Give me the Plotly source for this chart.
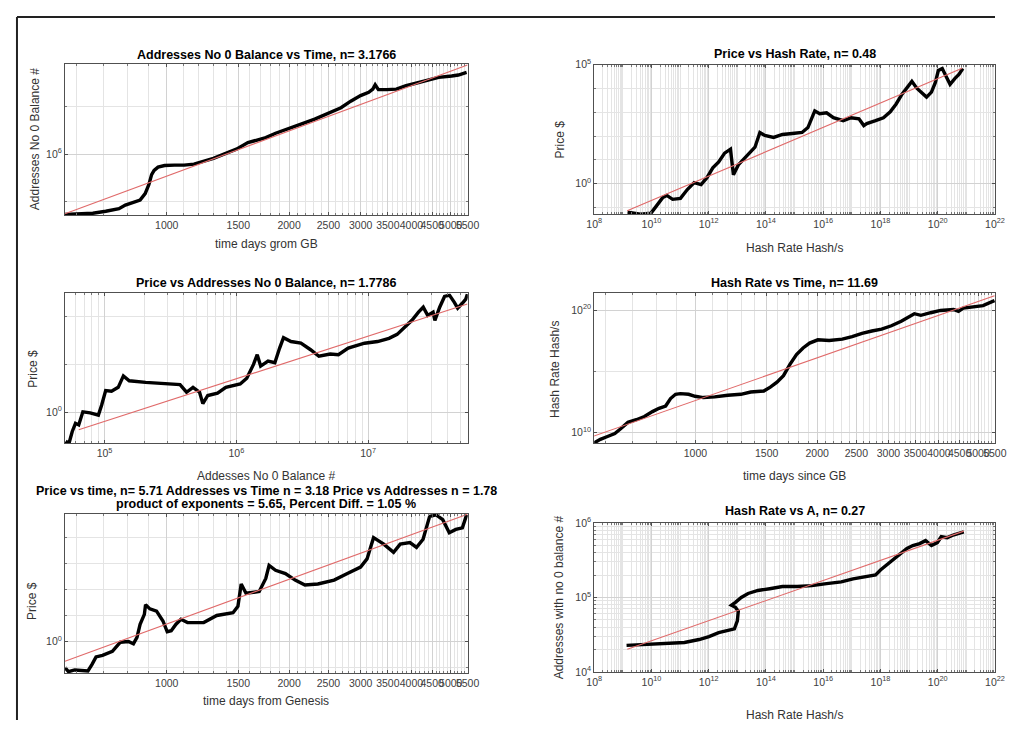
import plotly.graph_objects as go

W, H = 1015, 734          # browser window
OFF = 8                   # default body margin of the page
FW, FH = W - 2 * OFF, H - 2 * OFF   # figure size so the page fits the window exactly
FONT = "Liberation Sans, Arial, Helvetica, sans-serif"

# ---------------- data ----------------
# Panel 1: Addresses No 0 Balance vs Time
p1_days = [562, 658, 708, 763, 791, 828, 860, 885, 904, 918, 931, 952, 988, 1045, 1104, 1167, 1233, 1303,
           1378, 1484, 1584, 1659, 1753, 1853, 1996, 2148, 2313, 2490, 2684, 2837, 2999, 3141, 3215, 3258,
           3318, 3475, 3673, 3882, 4178, 4416, 4667, 5025, 5220, 5470]
p1_addr = [5.37e4, 5.74e4, 6.31e4, 7.14e4, 8.51e4, 9.69e4, 1.08e5, 1.48e5, 2.30e5, 3.70e5, 4.53e5, 5.32e5,
           5.74e5, 5.85e5, 5.85e5, 6.14e5, 6.95e5, 8.15e5, 9.87e5, 1.27e6, 1.74e6, 1.94e6, 2.21e6, 2.74e6,
           3.38e6, 4.29e6, 5.43e6, 7.21e6, 9.40e6, 1.29e7, 1.69e7, 1.98e7, 2.31e7, 2.85e7, 2.25e7, 2.25e7,
           2.31e7, 2.72e7, 3.18e7, 3.72e7, 4.08e7, 4.36e7, 4.57e7, 5.16e7]
p1_fit_days = [562, 5495]
p1_fit_addr = [5.6e4, 7.45e7]

# Panel 2: Price vs Hash Rate
p2_hash = [1.46e9, 4.07e9, 9.69e9, 1.44e10, 2.50e10, 3.42e10, 5.49e10, 1.03e11, 1.79e11, 3.11e11, 5.41e11,
           8.67e11, 1.39e12, 2.23e12, 3.59e12, 5.75e12, 6.74e12, 7.30e12, 1.08e13, 2.03e13, 4.13e13, 6.13e13,
           9.09e13, 1.85e14, 3.76e14, 8.27e14, 1.82e15, 2.92e15, 4.01e15, 5.07e15, 7.53e15, 1.31e16, 2.27e16,
           5.00e16, 9.40e16, 1.77e17, 2.62e17, 3.32e17, 6.75e17, 1.27e18, 2.20e18, 3.53e18, 5.66e18, 9.10e18,
           1.25e19, 1.85e19, 2.74e19, 4.07e19, 6.04e19, 8.28e19, 1.05e20, 1.44e20, 1.97e20, 2.70e20, 4.01e20,
           5.50e20, 7.54e20]
p2_price = [0.0633, 0.0524, 0.0576, 0.112, 0.264, 0.319, 0.218, 0.240, 0.565, 1.10, 0.909, 1.77, 4.58, 8.11,
            19.1, 27.9, 7.38, 2.35, 6.10, 13.1, 33.8, 141, 106, 87.5, 116, 128, 141, 227, 587, 1140, 859, 945,
            587, 441, 587, 533, 274, 332, 441, 587, 1040, 2220, 5750, 12300, 19800, 10200, 6970, 4320, 6970,
            18000, 56500, 68400, 31900, 14900, 26400, 38600, 68400]
p2_fit_hash = [1.42e9, 7.13e20]
p2_fit_price = [0.0716, 70300]

# Panel 3: Price vs Addresses No 0 Balance
p3_addr = [5.07e4, 5.37e4, 5.69e4, 6.02e4, 6.37e4, 6.85e4, 7.78e4, 8.98e4, 9.50e4, 1.02e5, 1.13e5, 1.27e5,
           1.39e5, 1.54e5, 2.05e5, 2.89e5, 3.74e5, 4.19e5, 4.69e5, 5.26e5, 5.57e5, 6.07e5, 7.20e5, 8.32e5,
           1.07e6, 1.20e6, 1.35e6, 1.44e6, 1.53e6, 1.74e6, 1.96e6, 2.13e6, 2.28e6, 2.60e6, 3.09e6, 3.66e6,
           4.23e6, 5.16e6, 5.95e6, 7.06e6, 9.39e6, 1.18e7, 1.44e7, 1.66e7, 1.92e7, 2.15e7, 2.41e7, 2.62e7,
           2.83e7, 3.11e7, 3.21e7, 3.49e7, 3.80e7, 4.14e7, 4.51e7, 4.78e7, 5.20e7, 5.51e7, 5.66e7]
p3_price = [0.0607, 0.0489, 0.156, 0.343, 0.293, 1.03, 0.94, 0.753, 1.94, 7.97, 7.48, 10.9, 32.8, 20.5, 17.5,
            15.0, 14.1, 6.8, 10.9, 6.8, 2.27, 4.97, 6.2, 10.9, 15.0, 26.4, 98.9, 253, 84.3, 135, 116, 476,
            1300, 893, 763, 406, 217, 270, 253, 476, 763, 893, 1220, 1780, 3680, 6900, 15100, 24300, 11100,
            15100, 6900, 24300, 68500, 77800, 38900, 22100, 36500, 53300, 85400]
p3_fit_addr = [6.37e4, 5.66e7]
p3_fit_price = [0.183, 33100]

# Panel 4: Hash Rate vs Time
p4_days = [560, 582, 604, 632, 650, 681, 714, 748, 783, 813, 844, 868, 893, 918, 962, 998, 1046, 1116, 1203,
           1295, 1370, 1476, 1532, 1591, 1651, 1713, 1778, 1846, 1916, 2008, 2142, 2308, 2441, 2582, 2731,
           2887, 3052, 3228, 3478, 3610, 3818, 4037, 4348, 4472, 4598, 4863, 5143, 5490]
p4_hash = [1.32e9, 2.75e9, 4.50e9, 8.32e9, 1.74e10, 6.71e10, 1.10e11, 2.03e11, 5.09e11, 9.40e11, 1.45e12,
           5.93e12, 1.32e13, 1.49e13, 1.32e13, 9.12e12, 7.13e12, 8.07e12, 1.10e13, 1.32e13, 2.03e13, 2.44e13,
           5.09e13, 1.28e14, 4.37e14, 3.74e15, 2.36e16, 8.07e16, 2.03e17, 3.74e17, 3.31e17, 4.24e17, 6.92e17,
           1.28e18, 1.96e18, 2.84e18, 5.25e18, 1.24e19, 5.09e19, 3.74e19, 6.12e19, 9.40e19, 1.13e20, 7.82e19,
           1.45e20, 1.74e20, 2.36e20, 5.93e20]
p4_fit_days = [560, 5490]
p4_fit_hash = [5.0e9, 1.51e21]

# Panel 5: Price vs time
p5_days = [562, 573, 594, 640, 655, 670, 695, 735, 769, 805, 828, 845, 860, 881, 887, 909, 944, 979, 1003,
           1026, 1054, 1084, 1125, 1233, 1328, 1456, 1497, 1525, 1567, 1689, 1753, 1786, 1853, 1959, 2070,
           2188, 2355, 2582, 2783, 2999, 3111, 3228, 3420, 3616, 3754, 3968, 4118, 4274, 4436, 4603, 4778,
           4958, 5145, 5340, 5470]
p5_price = [0.0986, 0.0696, 0.0805, 0.0738, 0.132, 0.256, 0.296, 0.420, 0.944, 1.0, 0.817, 1.46, 4.64, 11.1,
            26.4, 18.1, 14.8, 6.20, 2.38, 2.60, 4.64, 7.17, 5.36, 5.36, 10.1, 12.8, 22.8, 164, 72.8, 84.1, 268,
            853, 552, 413, 232, 150, 164, 232, 413, 738, 1520, 10000, 5600, 2720, 5600, 6470, 4200, 8650,
            65700, 75000, 49200, 15400, 20600, 23800, 75000]
p5_fit_days = [562, 5495]
p5_fit_price = [0.176, 79400]

# Panel 6: Hash Rate vs A
p6_hash = [1.35e9, 6.04e9, 2.92e10, 1.42e11, 4.62e11, 1.02e12, 2.23e12, 4.92e12, 7.89e12, 1.0e13, 1.08e13,
           8.55e12, 6.24e12, 8.55e12, 1.37e13, 2.38e13, 5.24e13, 1.35e14, 3.76e14, 1.23e15, 4.01e15, 1.31e16,
           4.27e16, 1.10e17, 3.06e17, 6.75e17, 1.0e18, 1.74e18, 2.79e18, 4.84e18, 8.41e18, 1.35e19, 2.34e19,
           3.76e19, 6.04e19, 9.69e19, 1.33e20, 2.13e20, 3.70e20, 8.15e20]
p6_addr = [22700, 23300, 24100, 24800, 27200, 29800, 33600, 35700, 37900, 48300, 65500, 73900, 78500, 85900,
           1.0e5, 1.13e5, 1.24e5, 1.31e5, 1.40e5, 1.40e5, 1.44e5, 1.53e5, 1.62e5, 1.78e5, 1.89e5, 2.01e5,
           2.34e5, 2.80e5, 3.16e5, 3.79e5, 4.55e5, 4.98e5, 5.29e5, 5.80e5, 4.98e5, 5.46e5, 6.54e5, 6.35e5,
           6.95e5, 7.60e5]
p6_fit_hash = [1.43e9, 8.15e20]
p6_fit_addr = [20100, 7.78e5]

# tick labels
time_ticks = [1000, 1500, 2000, 2500, 3000, 3500, 4000, 4500, 5000, 5500]
time_ticktext = [str(t) for t in time_ticks]

# ---------------- helpers ----------------
def sup(n):
    return f"10<sup>{n}</sup>"

def px(x):   # window pixel -> figure paper coordinate
    return (x - OFF) / FW

def py(y):
    return 1 - (y - OFF) / FH

GRID = '#d2d2d2'
MINOR = '#e4e4e4'
LINE = '#505050'
TICKFONT = dict(family=FONT, size=10.5, color='#404040')

def axis(domain, anchor, rng, tickvals, ticktext, minor_vals=None):
    d = dict(type='log', domain=domain, anchor=anchor, range=rng,
             tickmode='array', tickvals=tickvals, ticktext=ticktext,
             showgrid=True, gridcolor=GRID, gridwidth=1,
             showline=True, linecolor=LINE, linewidth=1, mirror='ticks',
             ticks='inside', ticklen=3, tickcolor=LINE, tickwidth=1, tickangle=0,
             tickfont=TICKFONT, zeroline=False, fixedrange=True)
    if minor_vals:
        d['minor'] = dict(tickmode='array', tickvals=minor_vals, showgrid=True,
                          gridcolor=MINOR, gridwidth=1, ticks='inside', ticklen=2,
                          tickcolor='#777777')
    return d

time_minor = [v for v in range(600, 5500, 100) if v not in time_ticks]
hash_ticks = [10.0 ** n for n in range(8, 23, 2)]
hash_text = [sup(n) for n in range(8, 23, 2)]
hash_minor = [k * 10.0 ** n for n in range(8, 22) for k in range(1, 10) if not (k == 1 and n % 2 == 0)]

# plot boxes in window pixels (x0, x1, y0, y1)
BOX = {1: (58, 469, 57, 211), 2: (598, 1007, 57.5, 210), 3: (58, 469, 291, 444),
       4: (598, 1007, 291, 444), 5: (58, 469, 516, 678), 6: (598, 1007, 525, 677)}

def dom(i):
    x0, x1, y0, y1 = BOX[i]
    return [px(x0), px(x1)], [py(y1), py(y0)]

fig = go.Figure()

def add_panel(i, x, y, fx, fy):
    xa = 'x' if i == 1 else f'x{i}'
    ya = 'y' if i == 1 else f'y{i}'
    fig.add_trace(go.Scatter(x=x, y=y, mode='lines', line=dict(color='black', width=3.4),
                             xaxis=xa, yaxis=ya, showlegend=False, hoverinfo='skip'))
    fig.add_trace(go.Scatter(x=fx, y=fy, mode='lines', line=dict(color='#e06a6a', width=1.1),
                             xaxis=xa, yaxis=ya, showlegend=False, hoverinfo='skip'))

add_panel(1, p1_days, p1_addr, p1_fit_days, p1_fit_addr)
add_panel(2, p2_hash, p2_price, p2_fit_hash, p2_fit_price)
add_panel(3, p3_addr, p3_price, p3_fit_addr, p3_fit_price)
add_panel(4, p4_days, p4_hash, p4_fit_days, p4_fit_hash)
add_panel(5, p5_days, p5_price, p5_fit_days, p5_fit_price)
add_panel(6, p6_hash, p6_addr, p6_fit_hash, p6_fit_addr)

time_range = [2.7497, 3.7408]
layout = {}
# panel 1
dx, dy = dom(1)
layout['xaxis'] = axis(dx, 'y', time_range, time_ticks, time_ticktext, time_minor)
layout['yaxis'] = axis(dy, 'x', [4.72, 7.89], [1e6], [sup(6)], [1e5, 1e7])
# panel 2
dx, dy = dom(2)
layout['xaxis2'] = axis(dx, 'y2', [7.999, 22.001], hash_ticks, hash_text, hash_minor)
layout['yaxis2'] = axis(dy, 'x2', [-1.28, 5.004], [1.0, 1e5], [sup(0), sup(5)],
                        [0.1, 10.0, 1e2, 1e3, 1e4])
# panel 3
dx, dy = dom(3)
layout['xaxis3'] = axis(dx, 'y3', [4.70, 7.756], [1e5, 1e6, 1e7], [sup(5), sup(6), sup(7)],
                        [k * 10.0 ** n for n in range(4, 8) for k in range(2, 10)])
layout['yaxis3'] = axis(dy, 'x3', [-1.31, 4.96], [1.0], [sup(0)], [1e2, 1e4])
# panel 4
dx, dy = dom(4)
layout['xaxis4'] = axis(dx, 'y4', time_range, time_ticks, time_ticktext, time_minor)
layout['yaxis4'] = axis(dy, 'x4', [9.1, 21.36], [1e10, 1e20], [sup(10), sup(20)], [1e15])
# panel 5
dx, dy = dom(5)
layout['xaxis5'] = axis(dx, 'y5', time_range, time_ticks, time_ticktext, time_minor)
layout['yaxis5'] = axis(dy, 'x5', [-1.208, 4.906], [1.0], [sup(0)], [0.1, 10.0, 1e2, 1e3, 1e4])
# panel 6
dx, dy = dom(6)
layout['xaxis6'] = axis(dx, 'y6', [7.999, 22.001], hash_ticks, hash_text, hash_minor)
layout['yaxis6'] = axis(dy, 'x6', [3.999, 6.001], [1e4, 1e5, 1e6], [sup(4), sup(5), sup(6)],
                        [k * 10.0 ** n for n in range(4, 6) for k in range(2, 10)])

fig.update_layout(**layout)

TITLE_FONT = dict(family=FONT, size=12.5, color='#000000')
LABEL_FONT = dict(family=FONT, size=12, color='#333333')

titles = [
    ("Addresses No 0 Balance vs Time, n= 3.1766", 263.5, 48),
    ("Price vs Hash Rate, n= 0.48", 802.5, 47),
    ("Price vs Addresses No 0 Balance, n= 1.7786", 263.5, 280),
    ("Hash Rate vs Time, n= 11.69", 802.5, 280),
    ("Price vs time, n= 5.71 Addresses vs Time n = 3.18 Price vs Addresses n = 1.78", 263.5, 492),
    ("product of exponents = 5.65, Percent Diff. = 1.05 %", 263.5, 506),
    ("Hash Rate vs A, n= 0.27", 802.5, 513),
]
xlabels = [
    ("time days grom GB", 263.5, 241),
    ("Hash Rate Hash/s", 802.5, 245),
    ("Addesses No 0 Balance #", 263.5, 477),
    ("time days since GB", 802.5, 477),
    ("time days from Genesis", 263.5, 707),
    ("Hash Rate Hash/s", 802.5, 721),
]
ylabels = [
    ("Addresses No 0 Balance #", 27, 134),
    ("Price $", 563, 134),
    ("Price $", 25, 368),
    ("Hash Rate Hash/s", 558, 368),
    ("Price $", 25, 605),
    ("Addresses with no 0 balance #", 563, 601),
]

ann = []
for t, x, y in titles:
    ann.append(dict(text=f"<b>{t}</b>", x=px(x), y=py(y), xref='paper', yref='paper',
                    xanchor='center', yanchor='middle', showarrow=False, font=TITLE_FONT))
for t, x, y in xlabels:
    ann.append(dict(text=t, x=px(x), y=py(y), xref='paper', yref='paper',
                    xanchor='center', yanchor='middle', showarrow=False, font=LABEL_FONT))
for t, x, y in ylabels:
    ann.append(dict(text=t, x=px(x), y=py(y), xref='paper', yref='paper', textangle=-90,
                    xanchor='center', yanchor='middle', showarrow=False, font=LABEL_FONT))

# outer frame (top and left edges visible in the reference; drawn at the page's first pixels)
shapes = [
    dict(type='line', xref='paper', yref='paper', x0=px(9), x1=1.0, y0=py(9), y1=py(9),
         line=dict(color='#222222', width=2)),
    dict(type='line', xref='paper', yref='paper', x0=px(9), x1=px(9), y0=py(9), y1=0.0,
         line=dict(color='#222222', width=2)),
]

fig.update_layout(width=FW, height=FH, margin=dict(l=0, r=0, t=0, b=0, pad=0),
                  paper_bgcolor='white', plot_bgcolor='white',
                  annotations=ann, shapes=shapes, font=dict(family=FONT))

fig.write_html("out.html", config={'displayModeBar': False})
